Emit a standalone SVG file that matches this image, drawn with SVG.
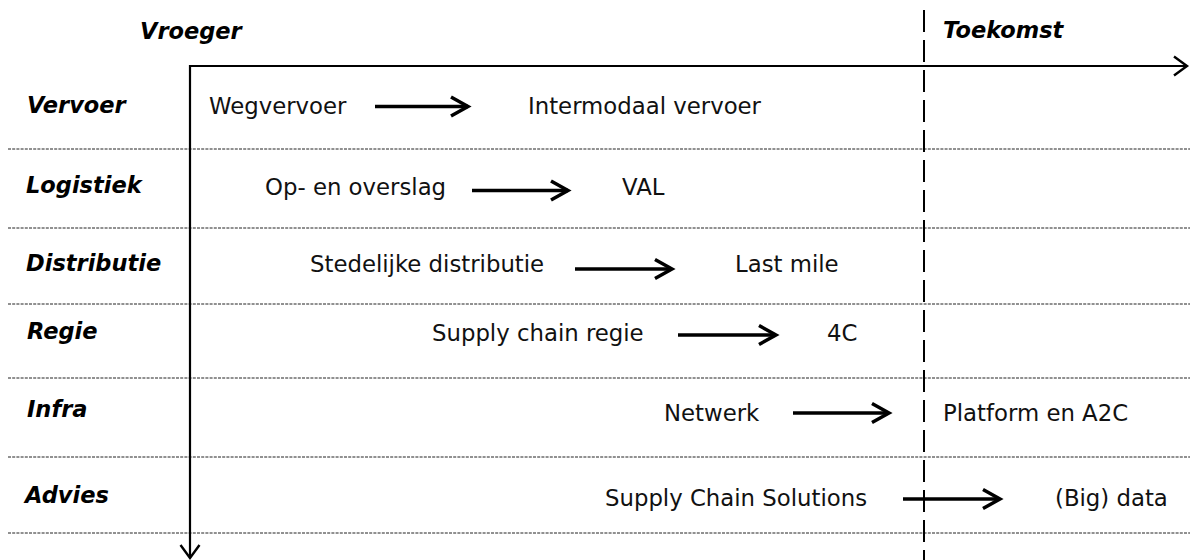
<svg xmlns="http://www.w3.org/2000/svg" width="1190" height="560" viewBox="0 0 1190 560">
  <style>
    .hdr { font-family: "DejaVu Sans", Verdana, sans-serif; font-weight: bold; font-style: italic; font-size: 22.5px; fill: #000; }
    .txt { font-family: "DejaVu Sans", Verdana, sans-serif; font-size: 22.8px; fill: #111; }
    .sep { stroke: #222; stroke-width: 1; stroke-dasharray: 3 1.2; fill: none; }
    .axis { stroke: #000; stroke-width: 2.2; fill: none; }
    .future { stroke: #000; stroke-width: 2; stroke-dasharray: 22 8; fill: none; }
    .arrow { stroke: #000; stroke-width: 3.5; fill: none; }
  </style>
  <defs>
    <marker id="head" markerUnits="userSpaceOnUse" viewBox="-22 -14 26 28" markerWidth="26" markerHeight="28" refX="0" refY="0" orient="auto">
      <path d="M -17 -9.5 L 0 0 L -17 9.5" fill="none" stroke="#000" stroke-width="3.5" stroke-linejoin="miter"/>
    </marker>
    <marker id="axhead" markerUnits="userSpaceOnUse" viewBox="-18 -14 22 28" markerWidth="22" markerHeight="28" refX="0" refY="0" orient="auto">
      <path d="M -13 -9.5 L 0 0 L -13 9.5" fill="none" stroke="#000" stroke-width="2.4"/>
    </marker>
  </defs>

  <rect width="1190" height="560" fill="#fff"/>

  <g id="separators">
    <line class="sep" x1="8" y1="149" x2="1190" y2="149"/>
    <line class="sep" x1="8" y1="228" x2="1190" y2="228"/>
    <line class="sep" x1="8" y1="304" x2="1190" y2="304"/>
    <line class="sep" x1="8" y1="378" x2="1190" y2="378"/>
    <line class="sep" x1="8" y1="457" x2="1190" y2="457"/>
    <line class="sep" x1="8" y1="533" x2="1190" y2="533"/>
  </g>

  <g id="axes">
    <line class="axis" x1="189" y1="66" x2="1187" y2="66" marker-end="url(#axhead)"/>
    <line class="axis" x1="190" y1="65" x2="190" y2="558" marker-end="url(#axhead)"/>
    <line class="future" x1="924" y1="10" x2="924" y2="560"/>
  </g>

  <g id="headers">
    <text class="hdr" x="140" y="39">Vroeger</text>
    <text class="hdr" x="943" y="38">Toekomst</text>
  </g>

  <g id="row-labels">
    <text class="hdr" x="27" y="113">Vervoer</text>
    <text class="hdr" x="26" y="193">Logistiek</text>
    <text class="hdr" x="26" y="271">Distributie</text>
    <text class="hdr" x="27" y="339">Regie</text>
    <text class="hdr" x="27" y="417">Infra</text>
    <text class="hdr" x="25" y="503">Advies</text>
  </g>

  <g id="n-wegvervoer"><text class="txt" x="209" y="114">Wegvervoer</text></g>
  <g id="n-intermodaal"><text class="txt" x="528" y="114">Intermodaal vervoer</text></g>
  <g id="n-opoverslag"><text class="txt" x="265" y="195">Op- en overslag</text></g>
  <g id="n-val"><text class="txt" x="622" y="195">VAL</text></g>
  <g id="n-stedelijke"><text class="txt" x="310" y="272">Stedelijke distributie</text></g>
  <g id="n-lastmile"><text class="txt" x="735" y="272">Last mile</text></g>
  <g id="n-scregie"><text class="txt" x="432" y="341">Supply chain regie</text></g>
  <g id="n-4c"><text class="txt" x="827" y="341">4C</text></g>
  <g id="n-netwerk"><text class="txt" x="664" y="421">Netwerk</text></g>
  <g id="n-platform"><text class="txt" x="943" y="421">Platform en A2C</text></g>
  <g id="n-scs"><text class="txt" x="605" y="506">Supply Chain Solutions</text></g>
  <g id="n-bigdata"><text class="txt" x="1055" y="506">(Big) data</text></g>

  <g id="connectors">
    <line class="arrow" x1="375" y1="106.5" x2="468" y2="106.5" marker-end="url(#head)"/>
    <line class="arrow" x1="472" y1="190.5" x2="568" y2="190.5" marker-end="url(#head)"/>
    <line class="arrow" x1="575" y1="269" x2="672" y2="269" marker-end="url(#head)"/>
    <line class="arrow" x1="678" y1="335" x2="776" y2="335" marker-end="url(#head)"/>
    <line class="arrow" x1="793" y1="413" x2="889" y2="413" marker-end="url(#head)"/>
    <line class="arrow" x1="903" y1="499" x2="1000" y2="499" marker-end="url(#head)"/>
  </g>
</svg>
